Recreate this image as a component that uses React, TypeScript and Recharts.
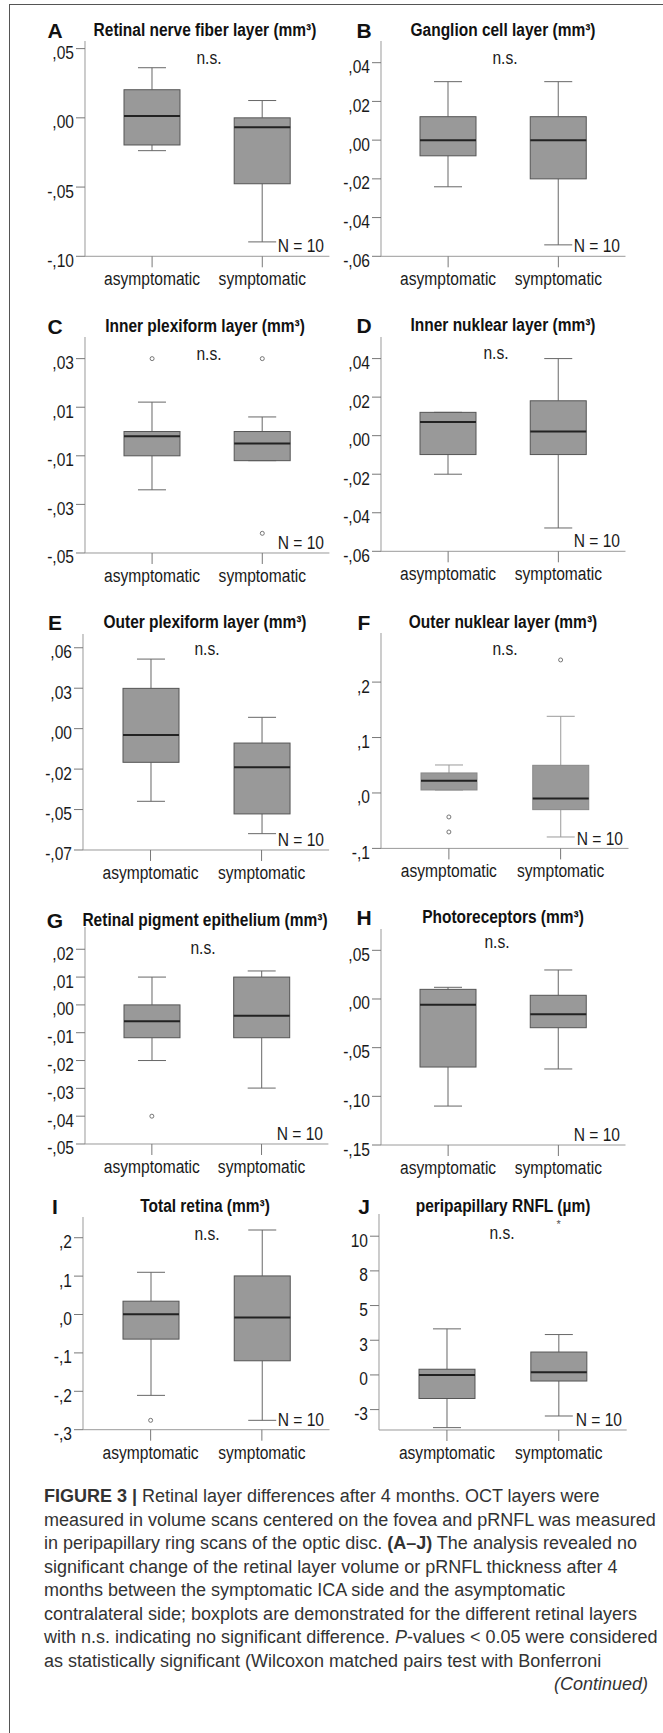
import React from 'react';
import { ComposedChart, Bar, Scatter, XAxis, YAxis } from 'recharts';

const groups = ['asymptomatic', 'symptomatic'];

// five-number summaries per group: [low whisker, Q1, median, Q3, high whisker]
const rnflAsym = [-0.0237, -0.0196, 0.0014, 0.0203, 0.0362];
const rnflSym = [-0.0896, -0.0476, -0.0068, 0.0, 0.0125];
const gclAsym = [-0.0241, -0.0081, 0.0, 0.0121, 0.0302];
const gclSym = [-0.0541, -0.02, 0.0, 0.0121, 0.0302];
const iplAsym = [-0.024, -0.01, -0.0019, 0.0, 0.0121];
const iplSym = [-0.012, -0.012, -0.0049, 0.0, 0.006];
const inlAsym = [-0.02, -0.0098, 0.0071, 0.0121, 0.0121];
const inlSym = [-0.0479, -0.0098, 0.0021, 0.0181, 0.04];
const oplAsym = [-0.0449, -0.0208, -0.0039, 0.0249, 0.043];
const oplSym = [-0.0649, -0.0527, -0.0239, -0.0089, 0.007];
const onlAsym = [0.0054, 0.0054, 0.0222, 0.0361, 0.0505];
const onlSym = [-0.0794, -0.0301, -0.0102, 0.0499, 0.1383];
const rpeAsym = [-0.02, -0.0118, -0.0059, 0.0, 0.01];
const rpeSym = [-0.0299, -0.0118, -0.0039, 0.01, 0.0122];
const prAsym = [-0.11, -0.0699, -0.0058, 0.0099, 0.012];
const prSym = [-0.0719, -0.0295, -0.0158, 0.0038, 0.0298];
const totAsym = [-0.2106, -0.0641, 0.0009, 0.0347, 0.11];
const totSym = [-0.2756, -0.1205, -0.0078, 0.1005, 0.2201];
const prnflAsym = [-3.8, -1.7, 0.0, 0.41, 3.32];
const prnflSym = [-2.96, -0.44, 0.19, 1.65, 2.91];

// outliers per group
const iplOutAsym = [0.03];
const iplOutSym = [0.03, -0.0419];
const onlOutAsym = [-0.0433, -0.0704];
const onlOutSym = [0.24];
const rpeOutAsym = [-0.04];
const totOutAsym = [-0.2756];
const prnflOutSym = [10.88];

// y ticks and their printed labels
const rnflTicks = [0.05, 0, -0.05, -0.1];
const rnflLabels = [',05', ',00', '-,05', '-,10'];
const gclTicks = [0.04, 0.02, 0, -0.02, -0.04, -0.06];
const gclLabels = [',04', ',02', ',00', '-,02', '-,04', '-,06'];
const iplTicks = [0.03, 0.01, -0.01, -0.03, -0.05];
const iplLabels = [',03', ',01', '-,01', '-,03', '-,05'];
const inlTicks = [0.04, 0.02, 0, -0.02, -0.04, -0.06];
const inlLabels = [',04', ',02', ',00', '-,02', '-,04', '-,06'];
const oplTicks = [0.05, 0.025, 0, -0.025, -0.05, -0.075];
const oplLabels = [',06', ',03', ',00', '-,02', '-,05', '-,07'];
const onlTicks = [0.2, 0.1, 0, -0.1];
const onlLabels = [',2', ',1', ',0', '-,1'];
const rpeTicks = [0.02, 0.01, 0, -0.01, -0.02, -0.03, -0.04, -0.05];
const rpeLabels = [',02', ',01', ',00', '-,01', '-,02', '-,03', '-,04', '-,05'];
const prTicks = [0.05, 0, -0.05, -0.1, -0.15];
const prLabels = [',05', ',00', '-,05', '-,10', '-,15'];
const totTicks = [0.2, 0.1, 0, -0.1, -0.2, -0.3];
const totLabels = [',2', ',1', ',0', '-,1', '-,2', '-,3'];
const prnflTicks = [10, 7.5, 5, 2.5, 0, -2.5];
const prnflLabels = ['10', '8', '5', '3', '0', '-3'];

const panels = [
  { id: 'A', title: 'Retinal nerve fiber layer (mm³)', boxes: [rnflAsym, rnflSym], out: [[], []], ticks: rnflTicks, labels: rnflLabels, domain: [-0.1, 0.0555] },
  { id: 'B', title: 'Ganglion cell layer (mm³)', boxes: [gclAsym, gclSym], out: [[], []], ticks: gclTicks, labels: gclLabels, domain: [-0.06, 0.0512] },
  { id: 'C', title: 'Inner plexiform layer (mm³)', boxes: [iplAsym, iplSym], out: [iplOutAsym, iplOutSym], ticks: iplTicks, labels: iplLabels, domain: [-0.05, 0.0389] },
  { id: 'D', title: 'Inner nuklear layer (mm³)', boxes: [inlAsym, inlSym], out: [[], []], ticks: inlTicks, labels: inlLabels, domain: [-0.06, 0.0512] },
  { id: 'E', title: 'Outer plexiform layer (mm³)', boxes: [oplAsym, oplSym], out: [[], []], ticks: oplTicks, labels: oplLabels, domain: [-0.075, 0.0585] },
  { id: 'F', title: 'Outer nuklear layer (mm³)', boxes: [onlAsym, onlSym], out: [onlOutAsym, onlOutSym], ticks: onlTicks, labels: onlLabels, domain: [-0.1, 0.2886], light: true },
  { id: 'G', title: 'Retinal pigment epithelium (mm³)', boxes: [rpeAsym, rpeSym], out: [rpeOutAsym, []], ticks: rpeTicks, labels: rpeLabels, domain: [-0.05, 0.028] },
  { id: 'H', title: 'Photoreceptors (mm³)', boxes: [prAsym, prSym], out: [[], []], ticks: prTicks, labels: prLabels, domain: [-0.15, 0.0719] },
  { id: 'I', title: 'Total retina (mm³)', boxes: [totAsym, totSym], out: [totOutAsym, []], ticks: totTicks, labels: totLabels, domain: [-0.3, 0.254] },
  { id: 'J', title: 'peripapillary RNFL (µm)', boxes: [prnflAsym, prnflSym], out: [[], prnflOutSym], ticks: prnflTicks, labels: prnflLabels, domain: [-3.97, 11.6], star: true },
];

// frame of each plot on the page (px)
const layout: Record<string, any> = {
  A: { l: 84.6, t: 40.7, r: 329, b: 256, titleY: 30, nsX: 209, nsY: 56.7 },
  B: { l: 380.5, t: 40.7, r: 625, b: 256, titleY: 30, nsX: 505, nsY: 56.7 },
  C: { l: 84.6, t: 337.3, r: 329, b: 553.3, titleY: 326, nsX: 208.5, nsY: 353 },
  D: { l: 380.5, t: 336.7, r: 625, b: 551, titleY: 325, nsX: 495.6, nsY: 352.3 },
  E: { l: 82.9, t: 634.3, r: 329, b: 850.3, titleY: 622.3, nsX: 207, nsY: 648.3 },
  F: { l: 380.5, t: 633.3, r: 628, b: 848.7, titleY: 622.3, nsX: 505, nsY: 647.7 },
  G: { l: 84.6, t: 927.3, r: 328, b: 1144.3, titleY: 920, nsX: 203, nsY: 947.3 },
  H: { l: 380.5, t: 929.3, r: 625, b: 1145.3, titleY: 916.7, nsX: 497, nsY: 940.7 },
  I: { l: 82.5, t: 1217.3, r: 329, b: 1430, titleY: 1205.7, nsX: 207, nsY: 1232.7 },
  J: { l: 379.3, t: 1214, r: 627, b: 1430, titleY: 1205.7, nsX: 502, nsY: 1231.7 },
};

const sans = "'Liberation Sans', Arial, sans-serif";
const SQ = 0.82; // horizontal squeeze to imitate a narrow face
const AX_FS = 19;
const frameColor = '#9a9a9a';
const Y_AXIS_W = 45;
const TOP_M = 10;
const X_AXIS_H = 40;

function BoxShape(props: any) {
  const { x, y, width, height, payload, light } = props;
  const [lo, q1, med, q3, hi] = payload.stats;
  const top = Math.min(y, y + height);
  const span = Math.abs(height);
  const py = (v: number) => (hi === lo ? top : top + ((hi - v) / (hi - lo)) * span);
  const cx = x + width / 2;
  const cap = width / 4;
  const wc = light ? '#9a9a9a' : '#666';
  const bc = light ? '#888' : '#555';
  return (
    <g>
      <line x1={cx} x2={cx} y1={py(hi)} y2={py(q3)} stroke={wc} />
      <line x1={cx} x2={cx} y1={py(q1)} y2={py(lo)} stroke={wc} />
      <line x1={cx - cap} x2={cx + cap} y1={py(hi)} y2={py(hi)} stroke={wc} />
      <line x1={cx - cap} x2={cx + cap} y1={py(lo)} y2={py(lo)} stroke={wc} />
      <rect x={x} y={py(q3)} width={width} height={py(q1) - py(q3)} fill="#999999" stroke={bc} strokeWidth={1} />
      <line x1={x} x2={x + width} y1={py(med)} y2={py(med)} stroke="#222" strokeWidth={2} />
    </g>
  );
}

function Panel({ p }: { p: any }) {
  const f = layout[p.id];
  const plotW = f.r - f.l;
  const plotH = f.b - f.t;
  const data = groups.map((g, i) => ({ group: g, stats: p.boxes[i], range: [p.boxes[i][0], p.boxes[i][4]] }));
  const outliers = groups.flatMap((g, i) => p.out[i].map((v: number) => ({ group: g, value: v })));
  const labelFor = (v: number) => {
    const i = p.ticks.findIndex((t: number) => Math.abs(t - v) < 1e-9);
    return i >= 0 ? p.labels[i] : '';
  };
  return (
    <div style={{ position: 'absolute', left: f.l - Y_AXIS_W, top: f.t - TOP_M }}>
      <ComposedChart
        width={plotW + Y_AXIS_W + 4}
        height={plotH + TOP_M + X_AXIS_H}
        data={data}
        margin={{ top: TOP_M, right: 4, bottom: 0, left: 0 }}
        style={{ fontFamily: sans }}
      >
        <XAxis
          dataKey="group"
          type="category"
          allowDuplicatedCategory={false}
          height={X_AXIS_H}
          padding={{ left: 12, right: 12 }}
          tickSize={11}
          tickLine={{ stroke: '#777' }}
          axisLine={{ stroke: frameColor }}
          interval={0}
          tick={(t: any) => (
            <text transform={`translate(${t.x},${t.y + 16}) scale(${SQ},1)`} textAnchor="middle" fontSize={AX_FS} fill="#1a1a1a" fontFamily={sans}>
              {t.payload.value}
            </text>
          )}
        />
        <XAxis xAxisId="top" orientation="top" dataKey="group" type="category" allowDuplicatedCategory={false} height={0} tick={false} tickLine={false} axisLine={{ stroke: frameColor }} />
        <YAxis
          type="number"
          domain={p.domain}
          allowDataOverflow
          ticks={p.ticks}
          interval={0}
          width={Y_AXIS_W}
          tickSize={9}
          tickLine={{ stroke: '#777' }}
          axisLine={{ stroke: frameColor }}
          tick={(t: any) => (
            <text transform={`translate(${t.x},${t.y + 10.5}) scale(${SQ},1)`} textAnchor="end" fontSize={AX_FS} fill="#1a1a1a" fontFamily={sans}>
              {labelFor(t.payload.value)}
            </text>
          )}
        />
        <YAxis yAxisId="right" orientation="right" type="number" domain={p.domain} allowDataOverflow width={0} tick={false} tickLine={false} axisLine={{ stroke: frameColor }} />
        <Bar dataKey="range" barSize={56} shape={<BoxShape light={p.light} />} isAnimationActive={false} />
        <Scatter
          data={outliers}
          dataKey="value"
          isAnimationActive={false}
          shape={(s: any) =>
            p.star ? (
              <text x={s.cx} y={s.cy + 4.5} textAnchor="middle" fontSize={11} fill="#555">*</text>
            ) : (
              <circle cx={s.cx} cy={s.cy} r={2} fill="#fff" stroke="#666" strokeWidth={0.9} />
            )
          }
        />
      </ComposedChart>
    </div>
  );
}

const captionLines: React.ReactNode[] = [
  <><b>FIGURE 3 |</b> Retinal layer differences after 4 months. OCT layers were</>,
  <>measured in volume scans centered on the fovea and pRNFL was measured</>,
  <>in peripapillary ring scans of the optic disc. <b>(A–J)</b> The analysis revealed no</>,
  <>significant change of the retinal layer volume or pRNFL thickness after 4</>,
  <>months between the symptomatic ICA side and the asymptomatic</>,
  <>contralateral side; boxplots are demonstrated for the different retinal layers</>,
  <>with n.s. indicating no significant difference. <i>P</i>-values &lt; 0.05 were considered</>,
  <>as statistically significant (Wilcoxon matched pairs test with Bonferroni</>,
];

const textBase = { position: 'absolute' as const, lineHeight: 1, whiteSpace: 'nowrap' as const, fontFamily: sans };

export default function App() {
  return (
    <div style={{ position: 'absolute', left: 0, top: 0, width: 663, height: 1733, background: '#fff', overflow: 'hidden' }}>
      <div style={{ position: 'absolute', left: 9, top: 4, width: 654, height: 1729, borderTop: '1.5px solid #555', borderLeft: '1.5px solid #555' }} />
      {panels.map((p) => {
        const f = layout[p.id];
        const leftCol = f.l < 200;
        return (
          <React.Fragment key={p.id}>
            <Panel p={p} />
            <div style={{ ...textBase, left: leftCol ? 55 : 364, top: f.titleY, transform: 'translate(-50%, -50%)', fontWeight: 700, fontSize: 21, color: '#111' }}>
              {p.id}
            </div>
            <div style={{ ...textBase, left: leftCol ? 205 : 503, top: f.titleY, transform: 'translate(-50%, -50%) scaleX(0.86)', fontWeight: 700, fontSize: 18, color: '#111' }}>
              {p.title}
            </div>
            <div style={{ ...textBase, left: f.nsX, top: f.nsY, transform: `translate(-50%, -50%) scaleX(${SQ})`, fontSize: AX_FS, color: '#1a1a1a' }}>
              n.s.
            </div>
            <div style={{ ...textBase, left: f.r - 5, top: f.b - 11, transformOrigin: 'right center', transform: `translate(-100%, -50%) scaleX(${SQ})`, fontSize: AX_FS, color: '#1a1a1a' }}>
              N = 10
            </div>
          </React.Fragment>
        );
      })}
      <div style={{ position: 'absolute', left: 44, top: 1485, fontFamily: sans, fontSize: 18, lineHeight: '23.5px', color: '#333' }}>
        {captionLines.map((l, i) => (
          <div key={i} style={{ whiteSpace: 'nowrap' }}>{l}</div>
        ))}
        <div style={{ width: 604, textAlign: 'right', fontStyle: 'italic' }}>(Continued)</div>
      </div>
    </div>
  );
}
